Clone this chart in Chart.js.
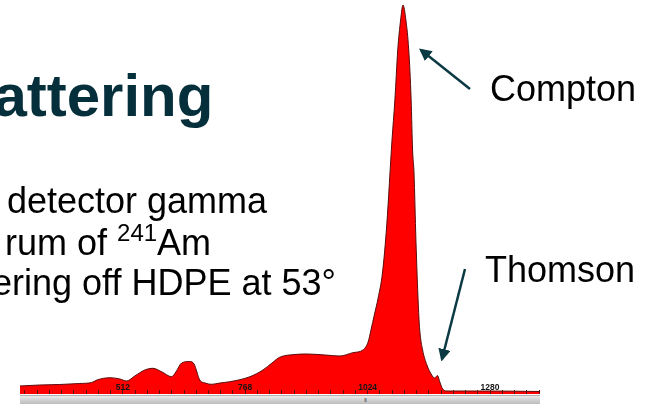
<!DOCTYPE html>
<html lang="en">
  <head>
    <meta charset="UTF-8" />
    <title>Compton and Thomson scattering spectrum</title>
    <script src="https://cdn.jsdelivr.net/npm/chart.js@4"></script>
    <style>
      body {
        margin: 0;
        width: 654px;
        height: 405px;
        overflow: hidden;
        background: #fff;
        position: relative;
        font-family: "Liberation Sans", Arial, sans-serif;
      }
      #chart-box {
        position: absolute;
        left: 20px;
        top: 0;
        width: 520px;
        height: 394px;
      }
      #scrollbar {
        position: absolute;
        left: 20px;
        top: 395px;
        width: 520px;
        height: 8px;
        background: linear-gradient(#ececec, #cfcfcf 55%, #bdbdbd);
        border-top: 1px solid #b0b0b0;
      }
      #grip {
        position: absolute;
        left: 344px;
        top: 0;
        font-size: 6px;
        line-height: 8px;
        color: #666;
        letter-spacing: -1px;
      }
      #overlay {
        position: absolute;
        left: 0;
        top: 0;
      }
    </style>
  </head>
  <body>
    <div id="chart-box"><canvas id="spectrum"></canvas></div>
    <div id="scrollbar"><span id="grip">III</span></div>

    <svg id="overlay" width="654" height="405">
      <defs>
        <marker id="head" markerWidth="5" markerHeight="5" refX="4" refY="2.5" orient="auto" markerUnits="strokeWidth">
          <path d="M0,0 L5,2.5 L0,5 Z" fill="#0b3a44" />
        </marker>
      </defs>
      <text x="-80" y="116" font-size="60" font-weight="bold" fill="#062f3c">Scattering</text>
      <text font-size="36" fill="#000">
        <tspan x="7" y="213">detector gamma</tspan>
        <tspan x="5" y="255">rum of <tspan font-size="24" dy="-14">241</tspan><tspan dy="14">Am</tspan></tspan>
        <tspan x="-8" y="295">ering off HDPE at 53°</tspan>
      </text>
      <text x="490" y="101" font-size="36" fill="#000">Compton</text>
      <text x="485" y="282" font-size="36" fill="#000">Thomson</text>
      <line x1="470" y1="89" x2="421" y2="50" stroke="#0b3a44" stroke-width="2.5" marker-end="url(#head)" />
      <line x1="465" y1="269" x2="442" y2="359" stroke="#0b3a44" stroke-width="2.5" marker-end="url(#head)" />
    </svg>

    <script>
      // channel numbers and counts
      const channels = [
        297, 338, 380, 422, 447, 458, 485, 506, 520, 537, 558, 575, 594, 614,
        623, 635, 652, 661, 673, 684, 698, 715, 736, 778, 805, 824, 840, 872,
        897, 935, 966, 993, 1014, 1025, 1031, 1038, 1046, 1055, 1064, 1075,
        1081, 1087, 1093, 1098, 1104, 1110, 1115, 1118, 1121, 1125, 1130,
        1133, 1139, 1148, 1158, 1164, 1170, 1175, 1181, 1190, 1280, 1384,
      ];
      const counts = [
        80, 90, 95, 105, 115, 140, 163, 150, 130, 180, 240, 257, 220, 173,
        220, 310, 325, 300, 140, 110, 97, 110, 123, 173, 240, 310, 367, 395,
        400, 390, 380, 413, 440, 520, 640, 790, 960, 1210, 1690, 2540, 2940,
        3440, 3740, 3890, 3740, 3440, 2940, 2440, 2210, 1540, 890, 640, 440,
        290, 190, 160, 185, 120, 50, 30, 30, 25,
      ];
      const labelledChannels = [512, 768, 1024, 1280];
      const channelMin = 297;
      const channelMax = 1384;
      const countMax = 3940;

      const points = channels.map((c, i) => ({ x: c, y: counts[i] }));

      new Chart(document.getElementById("spectrum"), {
        type: "line",
        data: {
          datasets: [
            {
              data: points,
              fill: "origin",
              backgroundColor: "#ff0000",
              borderColor: "#5a0c0c",
              borderWidth: 1,
              pointRadius: 0,
              cubicInterpolationMode: "monotone",
            },
          ],
        },
        options: {
          responsive: true,
          maintainAspectRatio: false,
          animation: false,
          devicePixelRatio: 1,
          layout: { padding: 0 },
          plugins: { legend: { display: false }, tooltip: { enabled: false } },
          scales: {
            x: {
              type: "linear",
              min: channelMin,
              max: channelMax,
              border: { display: false },
              grid: {
                z: 1,
                drawOnChartArea: false,
                tickLength: -4,
                color: "#5a1010",
              },
              ticks: {
                z: 1,
                stepSize: 25.6,
                includeBounds: false,
                autoSkip: false,
                maxRotation: 0,
                mirror: true,
                padding: 1,
                color: "#141414",
                font: { size: 8.5, weight: "bold", family: "Liberation Sans" },
                callback: (v) =>
                  labelledChannels.some((c) => Math.abs(c - v) < 0.01)
                    ? String(Math.round(v))
                    : "",
              },
              afterFit: (scale) => {
                scale.height = 0;
              },
            },
            y: { display: false, min: 0, max: countMax },
          },
        },
      });
    </script>
  </body>
</html>
